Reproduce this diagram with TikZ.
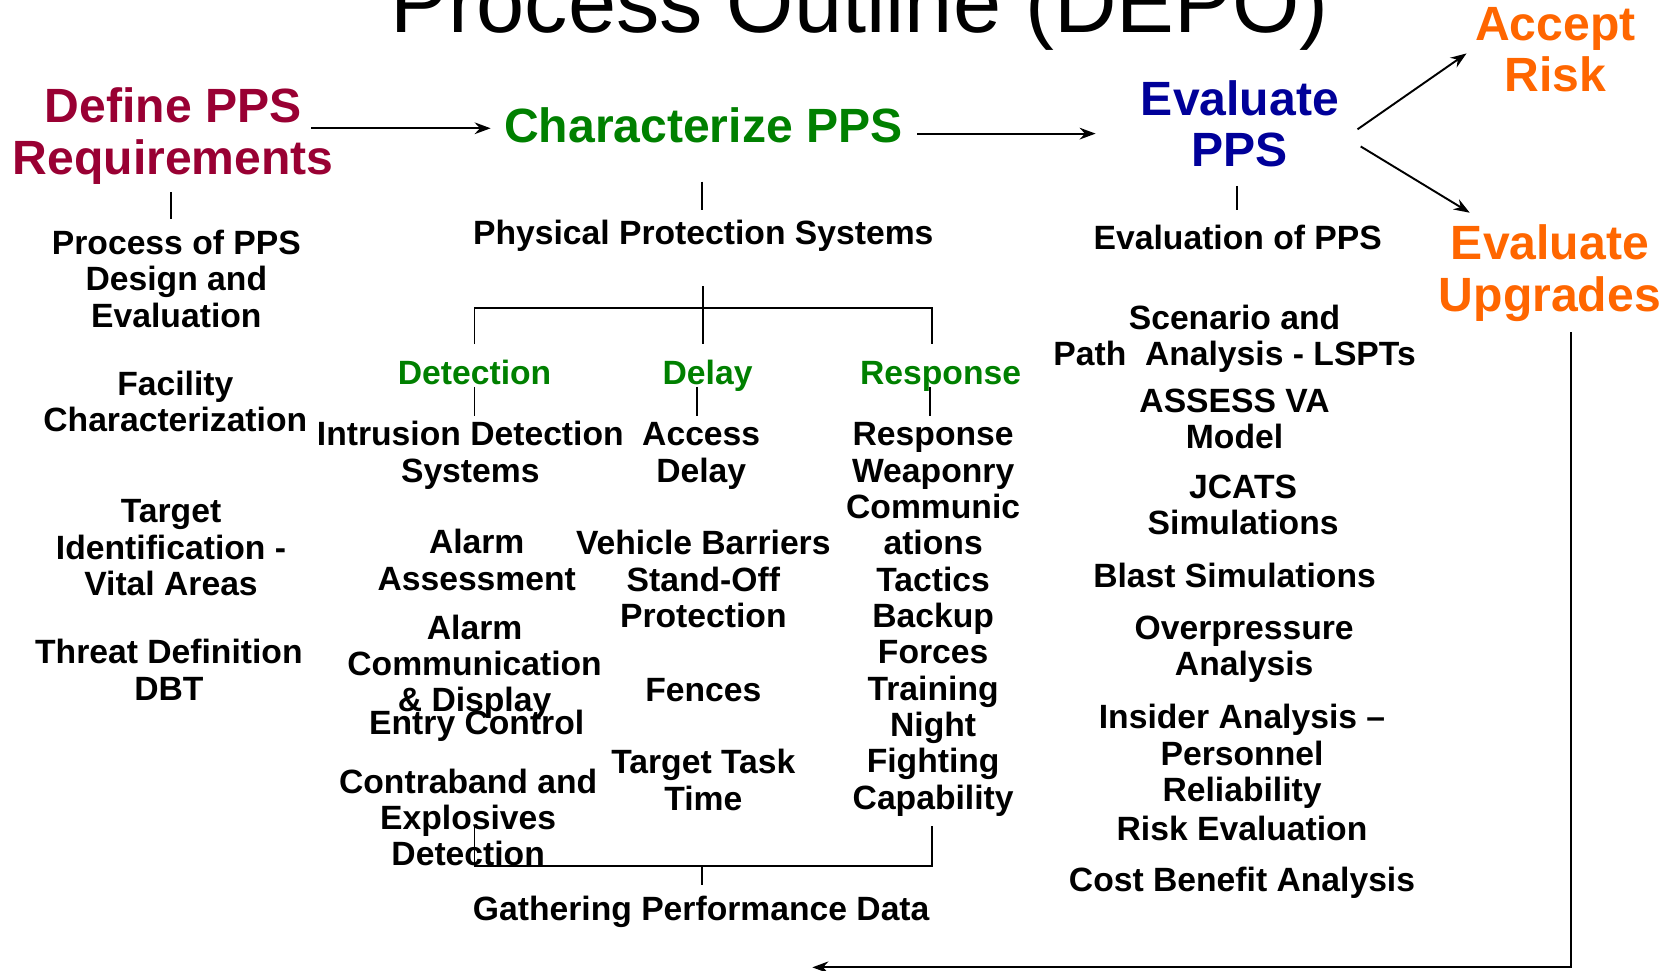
\documentclass[tikz,border=0pt]{standalone}
\usepackage{fontspec}
\setmainfont{Liberation Sans}
\usetikzlibrary{arrows.meta}
\definecolor{dred}{RGB}{153,0,51}
\definecolor{dgreen}{RGB}{0,128,0}
\definecolor{dblue}{RGB}{0,0,153}
\definecolor{orng}{RGB}{255,102,0}
\begin{document}
\begin{tikzpicture}[x=1pt,y=-1pt,
  lbl/.style={font=\fontsize{31.5}{34}\selectfont\bfseries, align=center, inner sep=0pt, anchor=base},
  big/.style={font=\fontsize{45}{48}\selectfont\bfseries, align=center, inner sep=0pt, anchor=base},
  tree/.style={line width=1.6pt},
  arr/.style={line width=1.8pt, -{Stealth[length=15pt,width=11pt,inset=5pt]}}]
\useasboundingbox (0,0) rectangle (1568,908);

% title (cut off at the top)
\node[font=\fontsize{81}{90}\selectfont, anchor=base, inner sep=0pt] (title) at (804,30) {Process Outline (DEPO)};

% headings (anchor base = baseline of the last line)
\node[big, text=dred] (def) at (162,163) {Define PPS\\Requirements};
\node[big, text=dgreen] (char) at (658,133) {Characterize PPS};
\node[big, text=dblue] (eval) at (1160,156) {Evaluate\\PPS};
\node[big, text=orng] (acc) at (1455,86) {Accept\\Risk};
\node[big, text=orng] (upg) at (1450,291) {Evaluate\\Upgrades};

% left column
\node[lbl] (lp) at (165,306) {Process of PPS\\Design and\\Evaluation};
\node[lbl] (lf) at (164,404) {Facility\\Characterization};
\node[lbl] (lt) at (160,557) {Target\\Identification -\\Vital Areas};
\node[lbl] (ld) at (158,655) {Threat Definition\\DBT};

% middle column
\node[lbl] (pps) at (658,229) {Physical Protection Systems};
\node[lbl, text=dgreen] (det) at (444,360) {Detection};
\node[lbl, text=dgreen] (del) at (662,360) {Delay};
\node[lbl, text=dgreen] (res) at (880,360) {Response};
\node[lbl] (ids) at (440,451) {Intrusion Detection\\Systems};
\node[lbl] (acd) at (656,451) {Access\\Delay};
\node[lbl] (rsp) at (873,757) {Response\\Weaponry\\Communic\\ations\\Tactics\\Backup\\Forces\\Training\\Night\\Fighting\\Capability};
\node[lbl] (aa) at (446,552) {Alarm\\Assessment};
\node[lbl] (acm) at (444,666) {Alarm\\Communication\\\& Display};
\node[lbl] (ec) at (446,687) {Entry Control};
\node[lbl] (cb) at (438,810) {Contraband and\\Explosives\\Detection};
\node[lbl] (vb) at (658,587) {Vehicle Barriers\\Stand-Off\\Protection};
\node[lbl] (fn) at (658,656) {Fences};
\node[lbl] (ttt) at (658,758) {Target Task\\Time};
\node[lbl] (gpd) at (656,861) {Gathering Performance Data};

% right column
\node[lbl] (evp) at (1158,233) {Evaluation of PPS};
\node[lbl] (sc) at (1155,342) {Scenario and\\Path\ \ Analysis - LSPTs};
\node[lbl] (as) at (1155,420) {ASSESS VA\\Model};
\node[lbl] (jc) at (1163,500) {JCATS\\Simulations};
\node[lbl] (bl) at (1155,550) {Blast Simulations};
\node[lbl] (ov) at (1164,632) {Overpressure\\Analysis};
\node[lbl] (ins) at (1162,750) {Insider Analysis --\\Personnel\\Reliability};
\node[lbl] (re) at (1162,786) {Risk Evaluation};
\node[lbl] (cba) at (1162,834) {Cost Benefit Analysis};

% connector points
\coordinate (a1s) at (291,120); \coordinate (a1e) at (459,120);
\coordinate (a2s) at (858,125); \coordinate (a2e) at (1025,125);
\coordinate (a3s) at (1270,121); \coordinate (a3e) at (1372,50);
\coordinate (a4s) at (1273,137); \coordinate (a4e) at (1375,199);
\coordinate (rt) at (1470,311); \coordinate (rc) at (1470,905); \coordinate (re2) at (760,905);

\coordinate (d1) at (160,180); \coordinate (d2) at (160,205);
\coordinate (c1) at (657,170); \coordinate (c2) at (657,196);
\coordinate (e1) at (1157,174); \coordinate (e2) at (1157,196);

\coordinate (t0) at (658,268); \coordinate (tm) at (658,288); \coordinate (tb) at (658,322);
\coordinate (tl) at (444,288); \coordinate (tlb) at (444,322);
\coordinate (tr) at (872,288); \coordinate (trb) at (872,322);

\coordinate (s1a) at (444,362); \coordinate (s1b) at (444,389);
\coordinate (s2a) at (652,362); \coordinate (s2b) at (652,389);
\coordinate (s3a) at (870,362); \coordinate (s3b) at (870,389);

\coordinate (bl1) at (444,773); \coordinate (bl2) at (444,810);
\coordinate (br1) at (872,773); \coordinate (br2) at (872,810);
\coordinate (bm1) at (657,810); \coordinate (bm2) at (657,828);

% arrows
\draw[arr] (a1s) -- (a1e);
\draw[arr] (a2s) -- (a2e);
\draw[arr] (a3s) -- (a3e);
\draw[arr] (a4s) -- (a4e);
\draw[arr] (rt) -- (rc) -- (re2);

% tree lines
\draw[tree] (d1) -- (d2);
\draw[tree] (c1) -- (c2);
\draw[tree] (e1) -- (e2);
\draw[tree] (t0) -- (tb);
\draw[tree] (tlb) -- (tl) -- (tr) -- (trb);
\draw[tree] (s1a) -- (s1b);
\draw[tree] (s2a) -- (s2b);
\draw[tree] (s3a) -- (s3b);
\draw[tree] (bl1) -- (bl2) -- (br2) -- (br1);
\draw[tree] (bm1) -- (bm2);
\end{tikzpicture}
\end{document}
